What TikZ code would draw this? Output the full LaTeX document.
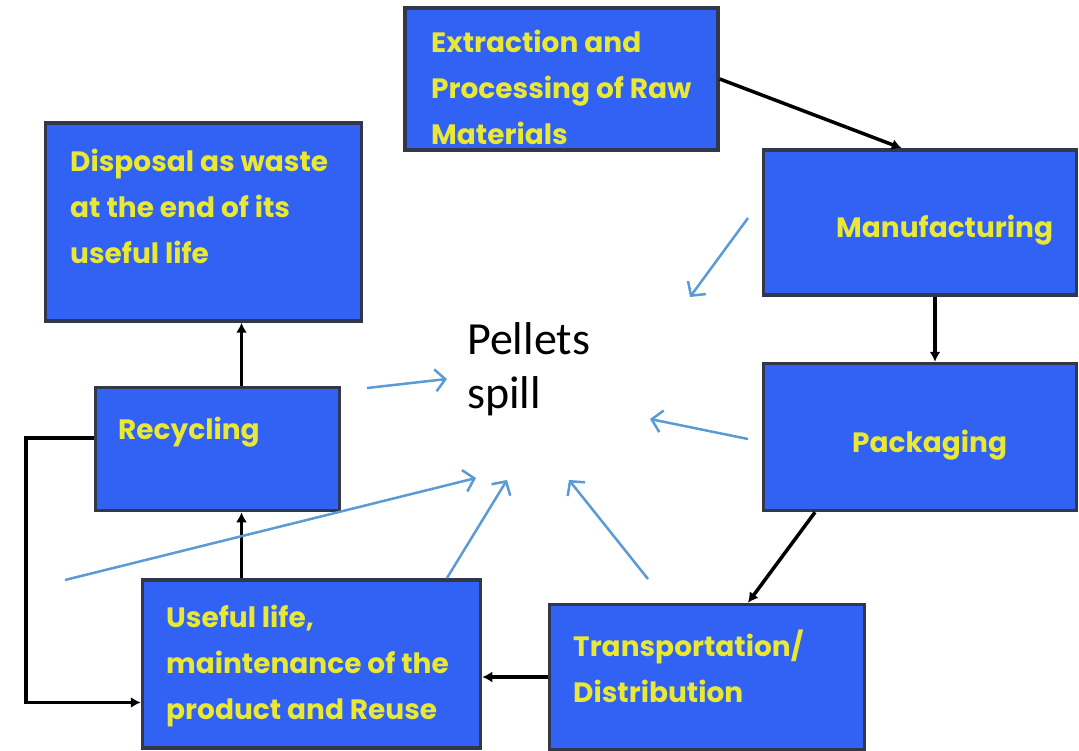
\documentclass[tikz,border=0pt]{standalone}
\usepackage{fontspec}
\setmainfont{Carlito}
\newfontfamily\boxfont{Poppins}
\usepackage{tikz}
\usetikzlibrary{arrows.meta,calc,positioning}
\definecolor{boxblue}{HTML}{3162F4}
\definecolor{boxedge}{HTML}{33374A}
\definecolor{txtyellow}{HTML}{E8E835}
\definecolor{spillblue}{HTML}{5B9BD5}

\begin{document}
\begin{tikzpicture}[x=1pt,y=-1pt,
  box/.style={draw=boxedge,line width=3.5pt,fill=boxblue,inner sep=0pt},
  boxtext/.style={text=txtyellow,font=\boxfont\bfseries\fontsize{28}{46}\selectfont,align=left,anchor=north west,inner sep=0pt},
  flow/.style={draw=black,line width=3.5pt,-{Latex[length=10pt,width=11pt]}},
  spill/.style={draw=spillblue,line width=2.5pt,-{Straight Barb[length=10pt,width=22pt]}}]
  \fill[white] (0,0) rectangle (1079,751);
  \useasboundingbox (0,0) rectangle (1079,751);

  % stages
  \node[box,minimum width=313pt,minimum height=142pt] (extract) at (561.5,79) {};
  \node[box,minimum width=316pt,minimum height=198pt] (dispose) at (203.5,222) {};
  \node[box,minimum width=313pt,minimum height=145pt] (manuf) at (920,222.5) {};
  \node[box,minimum width=313pt,minimum height=147pt] (pack) at (920,437) {};
  \node[box,minimum width=244pt,minimum height=123pt] (recyc) at (217.5,449) {};
  \node[box,minimum width=338pt,minimum height=168pt] (useful) at (311.5,664) {};
  \node[box,minimum width=315pt,minimum height=145pt] (transp) at (707,677) {};

  \node[boxtext] (extract-txt) at (431,30) {Extraction and\\Processing of Raw\\Materials};
  \node[boxtext] (dispose-txt) at (70,149) {Disposal as waste\\at the end of its\\useful life};
  \node[boxtext] (manuf-txt) at (836,215) {Manufacturing};
  \node[boxtext] (pack-txt) at (852,430) {Packaging};
  \node[boxtext] (recyc-txt) at (118,417) {Recycling};
  \node[boxtext] (useful-txt) at (166,605) {Useful life,\\maintenance of the\\product and Reuse};
  \node[boxtext] (transp-txt) at (573,630) {Transportation/\\Distribution};

  \node[font=\fontsize{46}{54}\selectfont,align=left,anchor=north west,inner sep=0pt] (pellets) at (467,322) {Pellets\\spill};

  % life cycle
  \draw[flow] (extract.east) -- ([xshift=140pt]manuf.north west);
  \draw[flow] ([xshift=15pt]manuf.south) -- ([xshift=15pt]pack.north);
  \draw[flow] ([xshift=-105pt]pack.south) -- ([xshift=41pt]transp.north);
  \draw[flow] (transp.west) -- (transp.west -| useful.east);
  \draw[flow] ([xshift=24pt]recyc.south |- useful.north) -- ([xshift=24pt]recyc.south);
  \draw[flow] ([xshift=24pt]recyc.north) -- ([xshift=24pt]recyc.north |- dispose.south);
  \draw[flow] ([yshift=11pt]recyc.west) -- ++(-68,0) |- ([yshift=-38.5pt]useful.west);

  % spills
  \coordinate (s1) at (748,218); \coordinate (e1) at (690,297);
  \coordinate (s2) at (367,388); \coordinate (e2) at (447,379);
  \coordinate (s3) at (748,439); \coordinate (e3) at (650,419);
  \coordinate (s4) at (65,580);  \coordinate (e4) at (476,478);
  \coordinate (s5) at (447,578); \coordinate (e5) at (507,480);
  \coordinate (s6) at (648,579); \coordinate (e6) at (569,480);
  \draw[spill] (s1) -- (e1);
  \draw[spill] (s2) -- (e2);
  \draw[spill] (s3) -- (e3);
  \draw[spill] (s4) -- (e4);
  \draw[spill] (s5) -- (e5);
  \draw[spill] (s6) -- (e6);
\end{tikzpicture}
\end{document}
